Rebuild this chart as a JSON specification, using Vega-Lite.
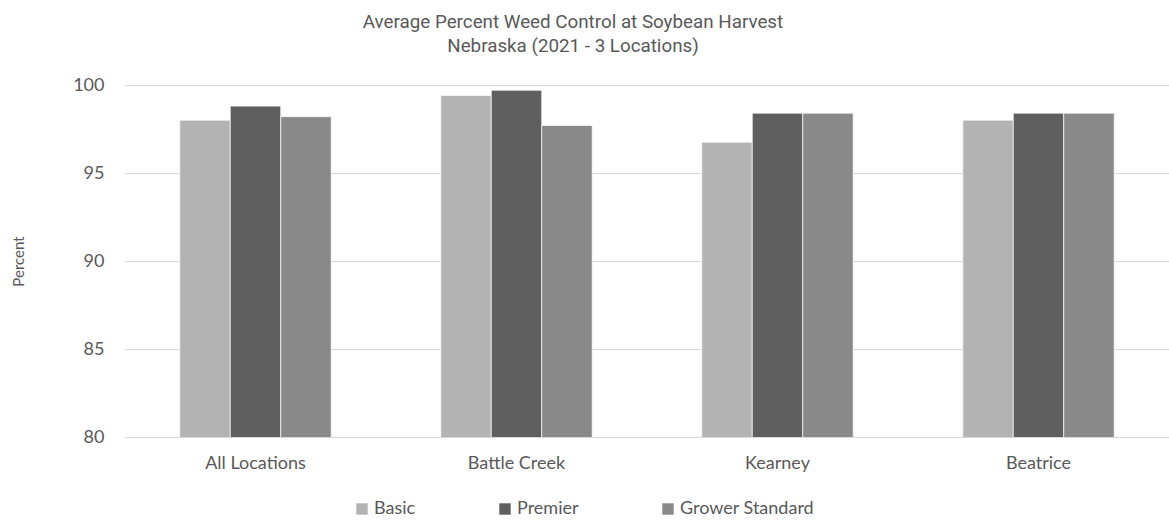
{
  "$schema": "https://vega.github.io/schema/vega-lite/v6.json",
  "autosize": "none",
  "width": 1044,
  "height": 352,
  "padding": {"left": 125, "top": 85, "right": 0, "bottom": 83},
  "background": "white",
  "config": {"view": {"stroke": null}},
  "title": {
    "text": ["Average Percent Weed Control at Soybean Harvest", "Nebraska (2021 - 3 Locations)"],
    "font": "Roboto, sans-serif",
    "fontSize": 18.8,
    "fontWeight": "normal",
    "color": "#595959",
    "lineHeight": 24,
    "anchor": "middle",
    "dx": -74,
    "offset": 20
  },
  "data": {
    "values": [
      {"location": "All Locations", "treatment": "Basic", "percent": 98.0},
      {"location": "All Locations", "treatment": "Premier", "percent": 98.8},
      {"location": "All Locations", "treatment": "Grower Standard", "percent": 98.2},
      {"location": "Battle Creek", "treatment": "Basic", "percent": 99.4},
      {"location": "Battle Creek", "treatment": "Premier", "percent": 99.7},
      {"location": "Battle Creek", "treatment": "Grower Standard", "percent": 97.7},
      {"location": "Kearney", "treatment": "Basic", "percent": 96.75},
      {"location": "Kearney", "treatment": "Premier", "percent": 98.4},
      {"location": "Kearney", "treatment": "Grower Standard", "percent": 98.4},
      {"location": "Beatrice", "treatment": "Basic", "percent": 98.0},
      {"location": "Beatrice", "treatment": "Premier", "percent": 98.4},
      {"location": "Beatrice", "treatment": "Grower Standard", "percent": 98.4}
    ]
  },
  "mark": {"type": "bar", "stroke": "white", "strokeWidth": 0.7, "clip": true},
  "encoding": {
    "x": {
      "field": "location", "type": "nominal",
      "sort": ["All Locations", "Battle Creek", "Kearney", "Beatrice"],
      "scale": {"paddingInner": 0.42, "paddingOuter": 0.21},
      "axis": {
        "title": null, "labelAngle": 0, "ticks": false,
        "domainColor": "#d9d9d9", "domainWidth": 1,
        "labelFont": "Lato, sans-serif", "labelFontSize": 18, "labelColor": "#595959",
        "labelPadding": 17
      }
    },
    "xOffset": {
      "field": "treatment", "type": "nominal",
      "sort": ["Basic", "Premier", "Grower Standard"],
      "scale": {"paddingInner": 0, "paddingOuter": 0}
    },
    "y": {
      "field": "percent", "type": "quantitative",
      "scale": {"domain": [80, 100], "zero": false, "nice": false},
      "axis": {
        "title": "Percent", "values": [80, 85, 90, 95, 100],
        "domain": false, "ticks": false, "gridColor": "#d9d9d9", "gridWidth": 1,
        "labelFont": "Lato, sans-serif", "labelFontSize": 18, "labelColor": "#595959",
        "labelPadding": 21,
        "titleFont": "Lato, sans-serif", "titleFontSize": 15, "titleFontWeight": "normal",
        "titleColor": "#595959", "titlePadding": 46
      }
    },
    "color": {
      "field": "treatment", "type": "nominal",
      "sort": ["Basic", "Premier", "Grower Standard"],
      "scale": {"domain": ["Basic", "Premier", "Grower Standard"], "range": ["#b3b3b3", "#5f5f5f", "#898989"]},
      "legend": {
        "title": null, "orient": "none", "legendX": 228, "legendY": 415,
        "direction": "horizontal",
        "symbolType": "square", "symbolSize": 130, "symbolStrokeWidth": 0,
        "labelFont": "Lato, sans-serif", "labelFontSize": 18, "labelColor": "#595959",
        "labelOffset": 3, "columnPadding": 80
      }
    }
  }
}
